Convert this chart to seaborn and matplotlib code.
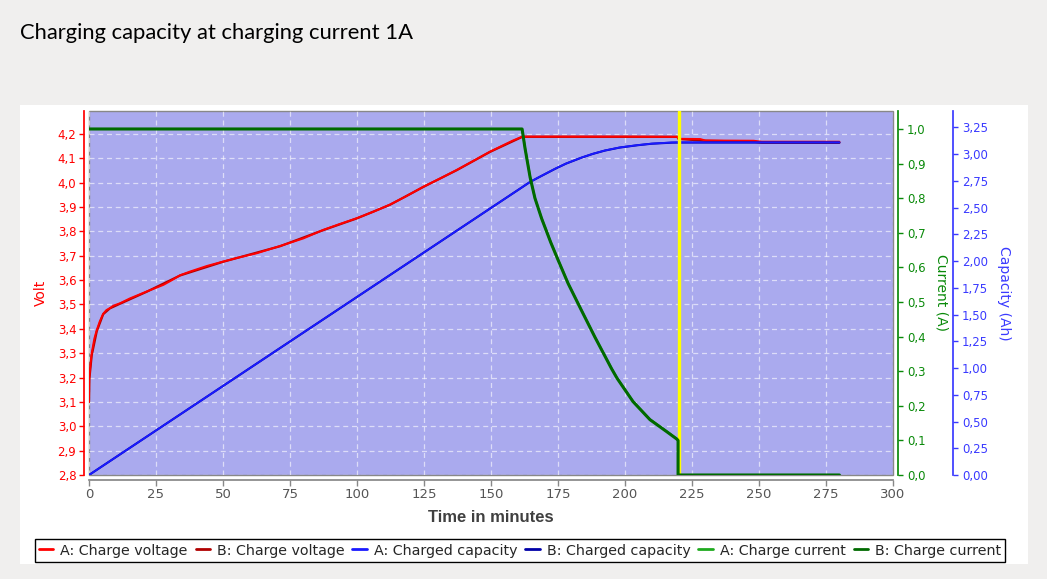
import numpy as np
import pandas as pd
import matplotlib
matplotlib.use("Agg")
import matplotlib.pyplot as plt
import seaborn as sns
from matplotlib.patches import Rectangle

# ---------------- data ----------------
title = "Charging capacity at charging current 1A"
x_label = "Time in minutes"
volt_label = "Volt"
cur_label = "Current (A)"
cap_label = "Capacity (Ah)"

x_ticks = [0, 25, 50, 75, 100, 125, 150, 175, 200, 225, 250, 275, 300]
x_tick_labels = ["0", "25", "50", "75", "100", "125", "150", "175", "200", "225", "250", "275", "300"]
volt_ticks = [2.8, 2.9, 3.0, 3.1, 3.2, 3.3, 3.4, 3.5, 3.6, 3.7, 3.8, 3.9, 4.0, 4.1, 4.2]
volt_tick_labels = ["2,8", "2,9", "3,0", "3,1", "3,2", "3,3", "3,4", "3,5", "3,6", "3,7", "3,8", "3,9", "4,0", "4,1", "4,2"]
cur_ticks = [0.0, 0.1, 0.2, 0.3, 0.4, 0.5, 0.6, 0.7, 0.8, 0.9, 1.0]
cur_tick_labels = ["0,0", "0,1", "0,2", "0,3", "0,4", "0,5", "0,6", "0,7", "0,8", "0,9", "1,0"]
cap_ticks = [0.0, 0.25, 0.5, 0.75, 1.0, 1.25, 1.5, 1.75, 2.0, 2.25, 2.5, 2.75, 3.0, 3.25]
cap_tick_labels = ["0,00", "0,25", "0,50", "0,75", "1,00", "1,25", "1,50", "1,75", "2,00", "2,25", "2,50", "2,75", "3,00", "3,25"]

marker_time = 220  # yellow marker

# Voltage A
volt_a_t = [0, 0.1, 0.5, 1, 2, 2.9, 4, 5.3, 6.5, 7.8, 9.1, 11.6, 15.3, 21.5, 27.7, 31, 34, 37.7,
            44, 50, 56, 62.6, 71.3, 80, 87.4, 93, 99.9, 106, 112.3, 118.5, 124.7, 131, 137.2,
            143.5, 149.6, 155.2, 158, 161.7, 180, 200, 219.5, 220, 228, 230, 248, 251, 265, 280]
volt_a_v = [3.10, 3.20, 3.25, 3.30, 3.36, 3.395, 3.43, 3.462, 3.477, 3.485, 3.495, 3.505, 3.525,
            3.553, 3.58, 3.60, 3.62, 3.635, 3.658, 3.676, 3.693, 3.71, 3.74, 3.771, 3.806, 3.828,
            3.854, 3.88, 3.910, 3.945, 3.983, 4.017, 4.052, 4.09, 4.127, 4.157, 4.172, 4.189,
            4.189, 4.189, 4.188, 4.180, 4.179, 4.173, 4.172, 4.168, 4.168, 4.168]
# Voltage B
volt_b_t = [0, 0.1, 1, 2.9, 5.3, 7.8, 11.6, 21.5, 34, 50, 71.3, 87.4, 99.9, 112.3, 124.7, 137.2,
            149.6, 161.7, 219.5, 220, 230, 248, 251, 280]
volt_b_v = [3.10, 3.19, 3.29, 3.39, 3.46, 3.484, 3.503, 3.552, 3.619, 3.675, 3.739, 3.805, 3.853,
            3.909, 3.982, 4.051, 4.126, 4.188, 4.188, 4.179, 4.172, 4.168, 4.164, 4.164]

# Capacity A
cap_a_t = [0, 161.6, 164.6, 168, 173.9, 178, 183.8, 188, 192.5, 198, 204.7, 210, 217.4, 220, 280]
cap_a_v = [0.0, 2.69, 2.74, 2.786, 2.863, 2.912, 2.968, 3.003, 3.034, 3.062, 3.084, 3.098, 3.109, 3.11, 3.11]
# Capacity B
cap_b_t = [0, 161.6, 164.6, 168, 173.9, 178, 183.8, 188, 192.5, 198, 204.7, 210, 217.4, 220, 280]
cap_b_v = [0.0, 2.69, 2.74, 2.785, 2.862, 2.911, 2.967, 3.002, 3.033, 3.061, 3.083, 3.097, 3.107, 3.108, 3.108]

# Current A
cur_a_t = [0, 161.6, 162.7, 164.6, 166.4, 168.9, 172.3, 175.1, 178.8, 183.8, 188.8, 195, 197,
           203, 209.3, 215.6, 219.3, 219.8, 219.8, 280]
cur_a_i = [1.0, 1.0, 0.946, 0.862, 0.80, 0.742, 0.673, 0.621, 0.554, 0.476, 0.399, 0.308, 0.281,
           0.213, 0.161, 0.126, 0.105, 0.10, 0.0, 0.0]
# Current B
cur_b_t = [0, 161.6, 162.7, 164.6, 166.4, 168.9, 172.3, 175.1, 178.8, 183.8, 188.8, 195, 197,
           203, 209.3, 215.6, 219.3, 219.8, 219.8, 280]
cur_b_i = [1.0, 1.0, 0.944, 0.86, 0.80, 0.741, 0.672, 0.62, 0.553, 0.475, 0.398, 0.307, 0.28,
           0.212, 0.16, 0.125, 0.104, 0.10, 0.0, 0.0]

series_labels = ["A: Charge voltage", "B: Charge voltage", "A: Charged capacity",
                 "B: Charged capacity", "A: Charge current", "B: Charge current"]

# ---------------- style ----------------
sns.set_theme(style="white")
plt.rcParams['font.family'] = ['DejaVu Sans']

W, H = 1047, 579
fig = plt.figure(figsize=(W / 100, H / 100), dpi=100, facecolor='#F0EFEE')
fig.add_artist(Rectangle((20 / W, 1 - 564 / H), 1008 / W, 459 / H, transform=fig.transFigure,
                         facecolor='white', edgecolor='none', zorder=-1))
fig.text(20 / W, 1 - 33 / H, title, fontsize=15.8, family=['Lato'], va='center', ha='left', color='black')

ax = fig.add_axes([89 / W, 1 - 475 / H, 804 / W, 364 / H])
ax.set_facecolor('#AAAAEE')
ax.patch.set_edgecolor('#888888')
ax.patch.set_linewidth(1.0)
ax_cap = ax.twinx()
ax_cur = ax.twinx()

RED_A, RED_B = '#FF0000', '#B00000'
BLUE_A, BLUE_B = '#1A1AFF', '#0000A8'
GREEN_A, GREEN_B = '#1FAA1F', '#006A00'
GREEN_AX = '#0A8A0A'
BLUE_AX = '#3A3AFF'

df_va = pd.DataFrame({'t': volt_a_t, 'v': volt_a_v})
df_vb = pd.DataFrame({'t': volt_b_t, 'v': volt_b_v})
df_ca = pd.DataFrame({'t': cap_a_t, 'c': cap_a_v})
df_cb = pd.DataFrame({'t': cap_b_t, 'c': cap_b_v})
df_ia = pd.DataFrame({'t': cur_a_t, 'i': cur_a_i})
df_ib = pd.DataFrame({'t': cur_b_t, 'i': cur_b_i})

kw = dict(estimator=None, sort=False, legend=False)
sns.lineplot(data=df_vb, x='t', y='v', ax=ax, color=RED_B, lw=1.6, label=series_labels[1], **kw)
sns.lineplot(data=df_va, x='t', y='v', ax=ax, color=RED_A, lw=1.4, label=series_labels[0], **kw)
sns.lineplot(data=df_cb, x='t', y='c', ax=ax_cap, color=BLUE_B, lw=1.5, label=series_labels[3], **kw)
sns.lineplot(data=df_ca, x='t', y='c', ax=ax_cap, color=BLUE_A, lw=1.3, label=series_labels[2], **kw)
ax_cap.axvline(marker_time, color='#FFFF00', lw=2.4, zorder=5)
sns.lineplot(data=df_ia, x='t', y='i', ax=ax_cur, color=GREEN_A, lw=1.5, label=series_labels[4], **kw)
sns.lineplot(data=df_ib, x='t', y='i', ax=ax_cur, color=GREEN_B, lw=2.2, label=series_labels[5], **kw)

# limits
ax.set_xlim(0, 300)
ax.set_ylim(2.8, 4.294)
ax_cur.set_ylim(0, 1.052)
ax_cap.set_ylim(0, 3.403)

# ticks
ax.set_xticks(x_ticks, labels=x_tick_labels)
ax.set_yticks(volt_ticks, labels=volt_tick_labels)
ax_cur.set_yticks(cur_ticks, labels=cur_tick_labels)
ax_cap.set_yticks(cap_ticks, labels=cap_tick_labels)

ax.grid(True, color='white', linestyle=(0, (4, 3)), linewidth=0.9, alpha=0.6)
ax_cur.grid(False)
ax_cap.grid(False)

off = 3.6  # 5 px in points
for s in ['top', 'right']:
    ax.spines[s].set_visible(False)
ax.spines['left'].set_color('red')
ax.spines['left'].set_position(('outward', off))
ax.spines['bottom'].set_color('#888888')
ax.spines['bottom'].set_position(('outward', off))
for a in (ax_cap, ax_cur):
    for s in ['top', 'left', 'bottom']:
        a.spines[s].set_visible(False)
ax_cur.spines['right'].set_color(GREEN_AX)
ax_cur.spines['right'].set_position(('outward', off))
ax_cap.spines['right'].set_color(BLUE_AX)
ax_cap.spines['right'].set_position(('outward', 60 * 0.72))

ax.tick_params(axis='y', colors='red', direction='out', length=3.5, width=1, labelsize=8.5, pad=2, left=True)
ax.tick_params(axis='x', colors='#888888', labelcolor='#555555', direction='out', length=4, width=1,
               labelsize=9.5, pad=2, bottom=True)
ax_cur.tick_params(axis='y', colors=GREEN_AX, direction='out', length=3.5, width=1, labelsize=8.5, pad=3, right=True)
ax_cap.tick_params(axis='y', colors=BLUE_AX, direction='out', length=3.5, width=1, labelsize=8.5, pad=3, right=True)

# labels
ax.set_xlabel(x_label, fontsize=12, fontweight='bold', family=['Liberation Sans'], color='#404040', va='center')
ax.xaxis.set_label_coords(0.5, (475 - 517) / 364)
ax.set_ylabel(volt_label, color='red', fontsize=10, va='center')
ax.yaxis.set_label_coords((41 - 89) / 804, 0.5)
ax_cur.set_ylabel(cur_label, color=GREEN_AX, fontsize=10, rotation=270, va='center')
ax_cur.yaxis.set_label_coords((942 - 89) / 804, 0.5)
ax_cap.set_ylabel(cap_label, color=BLUE_AX, fontsize=10, rotation=270, va='center')
ax_cap.yaxis.set_label_coords((1004 - 89) / 804, 0.5)

# legend
handles, labels = [], []
for a in (ax, ax_cap, ax_cur):
    h, l = a.get_legend_handles_labels()
    handles += h
    labels += l
order = [labels.index(s) for s in series_labels]
handles = [handles[i] for i in order]
labels = [labels[i] for i in order]
leg = fig.legend(handles, labels, loc='center', bbox_to_anchor=(520 / W, 1 - 550.5 / H), ncol=6,
                 fontsize=10.3, frameon=True, fancybox=False, edgecolor='black', framealpha=1,
                 handlelength=1.0, handletextpad=0.5, columnspacing=0.55, borderpad=0.3,
                 borderaxespad=0)
leg.get_frame().set_linewidth(1.0)
for lh in leg.get_lines():
    lh.set_linewidth(2.0)

fig.savefig('out.png', dpi=100, facecolor=fig.get_facecolor())
